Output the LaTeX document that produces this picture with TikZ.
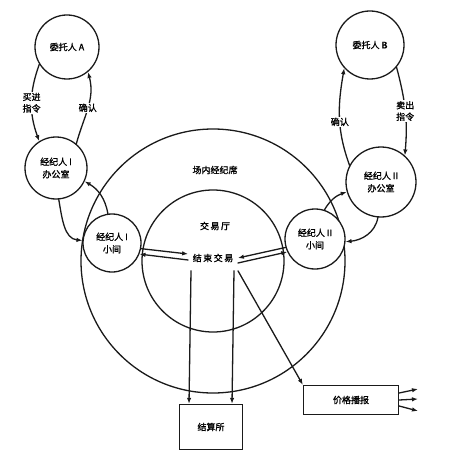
\documentclass[tikz,border=0pt]{standalone}
\usepackage{fontspec}
\setmainfont{Noto Sans CJK SC}[FakeBold=1.4]
\usepackage{tikz}
\usetikzlibrary{calc,arrows.meta}
\usepackage{xcolor}
\definecolor{tinta}{HTML}{1A1A1A}

\begin{document}
\begin{tikzpicture}[x=1pt,y=-1pt,>={Latex[length=6pt,width=4.5pt]},line cap=round,
    line width=1.3pt,draw=tinta,
    circulo/.style={draw,circle,fill=white,inner sep=0pt,align=center,
                    font=\fontsize{9}{12.5}\selectfont},
    caja/.style={draw,rectangle,fill=white,inner sep=0pt,
                 font=\fontsize{9}{11}\selectfont},
    rotulo/.style={fill=white,inner sep=1pt,align=center,
                   font=\fontsize{9}{11.5}\selectfont},
    texto/.style={inner sep=1pt,font=\fontsize{9}{11}\selectfont}]
  \useasboundingbox[fill=white] (0,0) rectangle (450,457);
  \coordinate (C) at (213,261);
  % sala de negociación
  \draw (C) circle (132pt);
  \draw (C) circle (71pt);
  \node[texto] (xn) at (215,170) {场内经纪席};
  \node[texto] (jyt) at (215,226) {交\,易\,厅};
  \node[texto,inner xsep=4pt,inner ysep=8pt] (js) at (213,258) {结\,束\,交\,易};
  % clientes y corredores
  \node[circulo,minimum size=64pt] (wtA) at (67,47) {委托人 A};
  \node[circulo,minimum size=62pt] (bgI) at (56,168) {经纪人 I\\办公室};
  \node[circulo,minimum size=68pt] (wtB) at (370,45) {委托人 B};
  \node[circulo,minimum size=70pt] (bgII) at (381,182) {经纪人 II\\办公室};
  \node[circulo,minimum size=58pt] (xjI) at (112,243) {经纪人 I\\小间};
  \node[circulo,minimum size=60pt] (xjII) at (315,239) {经纪人 II\\小间};
  \node[caja,minimum width=63pt,minimum height=45pt] (jss) at (211,427) {结算所};
  \node[caja,minimum width=95pt,minimum height=29pt] (jb) at (351,400) {价格播报};
  % órdenes y confirmaciones
  \draw[->] (wtA.212) to[out=250,in=110] node[rotulo] {买进\\指令} (bgI.122);
  \draw[->] (bgI.50) to[out=75,in=-75] node[rotulo] {确认} (wtA.-50);
  \draw[->] (wtB.-40) to[out=-75,in=85] node[rotulo] {卖出\\指令} (bgII.48);
  \draw[->] (bgII.152) to[out=110,in=-100] node[rotulo,pos=0.45] {确认} (wtB.222);
  % oficina y cabina
  \draw[->] (bgI.-85) to[out=-80,in=175] (xjI.175);
  \draw[->] (xjI.98) to[out=100,in=-30] (bgI.-25);
  \draw[->] (xjII.72) to[out=60,in=200] (bgII.196);
  \draw[->] (bgII.-95) to[out=-100,in=5] (xjII.-5);
  % cabinas y cierre
  \draw[->] (xjI.-11) -- ([yshift=4pt]js.west);
  \draw[->] ([yshift=-2pt]js.west) -- (xjI.-22);
  \draw[->] (xjII.196) -- ([yshift=0pt]js.east);
  \draw[->] ([yshift=-5pt]js.east) -- (xjII.205);
  \foreach \dx in {-22,21}{
    \draw[->] ([xshift=\dx pt]js.south) -- ([xshift=\dx pt]jss.north);
  }
  \draw[->] ([xshift=25pt]js.south) -- (jb.north west);
  % difusión de precios
  \foreach \i/\y/\s in {1/389/7,2/399/0,3/411/-6}{
    \coordinate (o\i) at (418,\y);
    \draw[->] ([yshift=\s pt]jb.east) -- (o\i);
  }
\end{tikzpicture}
\end{document}
